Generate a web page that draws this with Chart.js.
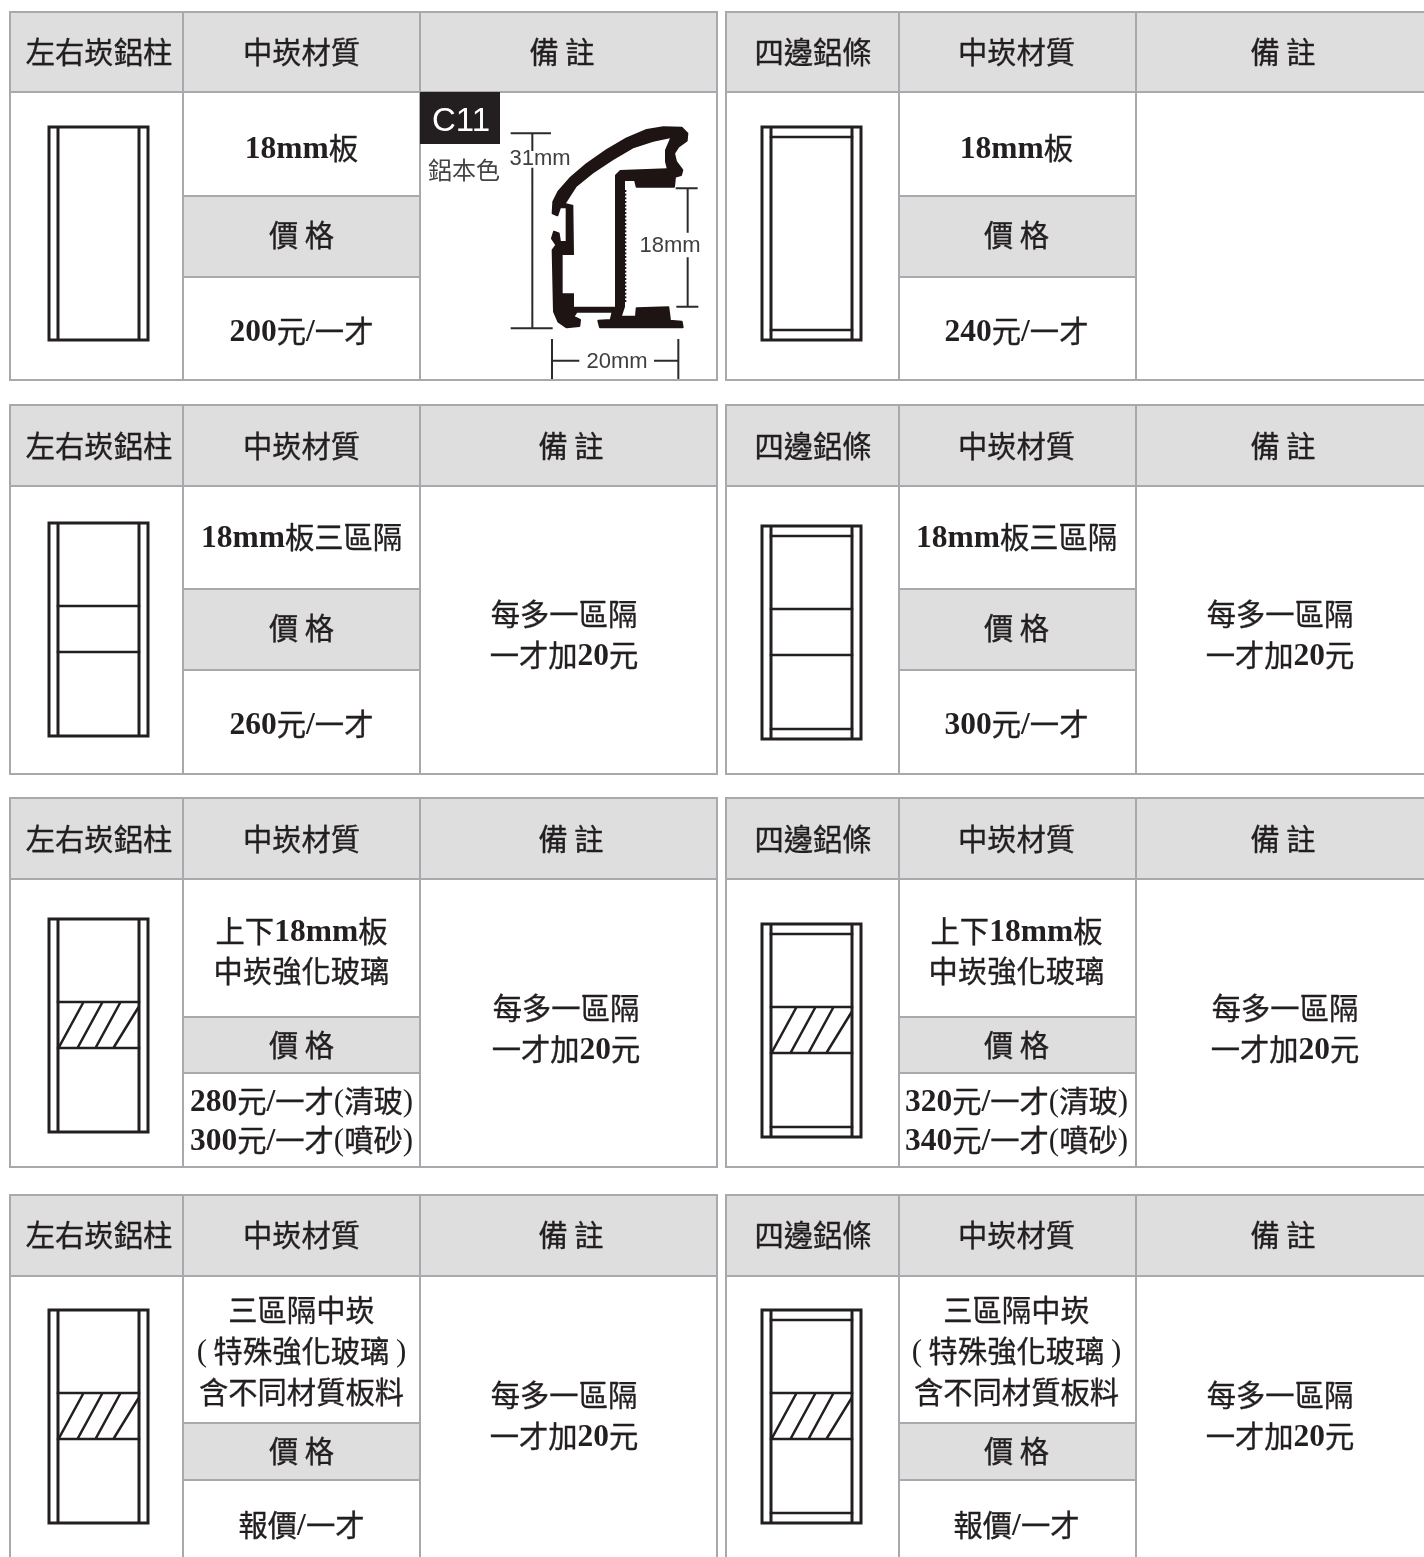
<!DOCTYPE html>
<html><head><meta charset="utf-8">
<style>html,body{margin:0;padding:0;background:#fff}canvas{display:block}</style>
<script src="https://cdn.jsdelivr.net/npm/chart.js@4/dist/chart.umd.min.js"></script>
</head><body>
<canvas id="c" width="1424" height="1557"></canvas>
<script>
// ---- content ----
const frameHeaders = ['左右崁鋁柱', '四邊鋁條'];
const materialHeader = '中崁材質';
const noteHeader = '備 註';
const priceHeader = '價 格';
const materials = [
  ['18mm板'],
  ['18mm板三區隔'],
  ['上下18mm板', '中崁強化玻璃'],
  ['三區隔中崁', '( 特殊強化玻璃 )', '含不同材質板料']
];
const sidePrices = [
  ['200元/一才'],
  ['260元/一才'],
  ['280元/一才(清玻)', '300元/一才(噴砂)'],
  ['報價/一才']
];
const edgePrices = [
  ['240元/一才'],
  ['300元/一才'],
  ['320元/一才(清玻)', '340元/一才(噴砂)'],
  ['報價/一才']
];
const notes = [
  [],
  ['每多一區隔', '一才加20元'],
  ['每多一區隔', '一才加20元'],
  ['每多一區隔', '一才加20元']
];
const profileCode = 'C11';
const profileColor = '鋁本色';
const profileDims = ['31mm', '18mm', '20mm'];

// ---- layout (page units) ----
const W = 1424, H = 1557;
const tableCols = [[10, 183, 420, 717], [726, 899, 1136, 1430]];
const tableRows = [
  [12, 92, 196, 277, 380],
  [405, 486, 589, 670, 774],
  [798, 879, 1017, 1073, 1167],
  [1195, 1276, 1423, 1480, 1556]
];
const headerY = [52, 446, 839, 1235];
const materialY = [[148], [537], [931, 971], [1310, 1351, 1392]];
const priceHeadY = [235, 628, 1045, 1451];
const priceY = [[331], [724], [1101, 1140], [1525]];
const noteY = [[], [614, 655], [1008, 1049], [1395, 1436]];
const noteX = [[0, 564, 566, 564], [0, 1280, 1285, 1280]];
const headNoteX = [[562, 571, 571, 571], [1283, 1283, 1283, 1283]];
const col1X = [99, 813], col2X = [301.5, 1016.5];
const frameX = [[49, 58, 139, 148], [762, 771, 852, 861]];
const frameTop = [[127, 523, 919, 1310], [127, 526, 924, 1310]];
const FRAME_H = 213, DIV_A = 83, DIV_B = 129;

const INK = '#231f20', GRID = '#a7a9ac', HEAD = '#dedede', BLACK = '#1f1414';

// ---- line datasets ----
function seg(list, pts) { list.push(...pts, { x: null, y: null }); }
const gridPts = [], framePts = [], thinPts = [], dimPts = [];
tableCols.forEach((c, t) => tableRows.forEach((r, i) => {
  c.forEach(x => seg(gridPts, [{ x, y: r[0] }, { x, y: r[4] }]));
  const lastOpen = i === tableRows.length - 1;
  r.forEach((y, k) => {
    if (k === 1 || k === 0 || (k === 4 && !lastOpen)) seg(gridPts, [{ x: c[0], y }, { x: c[3], y }]);
    if (k === 2 || k === 3) seg(gridPts, [{ x: c[1], y }, { x: c[2], y }]);
  });
}));
frameX.forEach((fx, t) => frameTop[t].forEach((top, i) => {
  const bot = top + FRAME_H;
  seg(framePts, [{ x: fx[0], y: top }, { x: fx[3], y: top }, { x: fx[3], y: bot }, { x: fx[0], y: bot }, { x: fx[0], y: top }]);
  seg(framePts, [{ x: fx[1], y: top }, { x: fx[1], y: bot }]);
  seg(framePts, [{ x: fx[2], y: top }, { x: fx[2], y: bot }]);
  if (t === 1) {
    seg(thinPts, [{ x: fx[1], y: top + 10 }, { x: fx[2], y: top + 10 }]);
    seg(thinPts, [{ x: fx[1], y: bot - 10 }, { x: fx[2], y: bot - 10 }]);
  }
  if (i > 0) {
    const a = top + DIV_A, b = top + DIV_B;
    seg(thinPts, [{ x: fx[1], y: a }, { x: fx[2], y: a }]);
    seg(thinPts, [{ x: fx[1], y: b }, { x: fx[2], y: b }]);
    if (i > 1) {
      [1, 20, 38].forEach(d => seg(thinPts, [{ x: fx[1] + d, y: b - 1 }, { x: fx[1] + d + 24, y: a + 1 }]));
      seg(thinPts, [{ x: fx[1] + 56, y: b - 1 }, { x: fx[1] + 80, y: a + 6 }]);
    }
  }
}));
// profile dimension lines, in crop units (x/3+420, y/3+90)
const zx = v => v / 3 + 420, zy = v => v / 3 + 90;
[[275, 130, 390, 130], [275, 715, 395, 715], [337, 130, 337, 180], [337, 236, 337, 715],
 [770, 295, 830, 295], [772, 650, 832, 650], [803, 295, 803, 425], [803, 505, 803, 650],
 [396, 750, 396, 865], [775, 750, 775, 865], [396, 812, 475, 812], [705, 812, 775, 812]]
  .forEach(l => seg(dimPts, [{ x: zx(l[0]), y: zy(l[1]) }, { x: zx(l[2]), y: zy(l[3]) }]));

const profileOutline = [[400,335],[398,370],[412,376],[420,352],[440,352],[440,456],[420,456],[416,430],[402,425],[396,445],[409,465],[398,480],[402,665],[415,695],[440,712],[478,708],[480,690],[460,680],[470,665],[578,665],[572,690],[535,692],[540,712],[788,712],[785,695],[750,692],[745,652],[650,655],[648,680],[602,680],[612,650],[612,270],[645,270],[650,290],[762,290],[765,260],[783,255],[787,240],[768,215],[762,190],[775,170],[800,152],[802,130],[785,113],[730,112],[680,120],[620,145],[560,180],[500,222],[450,265],[415,305]];
const profileCavity = [[460,345],[438,340],[470,290],[520,250],[580,210],[640,175],[700,155],[750,145],[735,180],[735,215],[740,235],[600,240],[585,255],[585,650],[462,650],[462,610],[428,610],[428,495],[462,495]];

// ---- text with mixed latin / CJK runs ----
const CJK = '"Noto Sans CJK TC"', SERIF = '"Liberation Serif"';
function runs(s) {
  const out = []; let cur = '', latin = null;
  for (const ch of s) {
    const l = /[0-9a-zA-Z\/()]/.test(ch);
    if (latin !== null && l !== latin) { out.push([cur, latin]); cur = ''; }
    cur += ch; latin = l;
  }
  if (cur) out.push([cur, latin]);
  return out;
}
function fontFor(run) {
  if (!run[1]) return '29.3px ' + CJK;
  if (/^[()]+$/.test(run[0])) return '31px ' + SERIF;
  return 'bold 31.5px ' + SERIF;
}
function drawText(ctx, s, px, py) {
  const parts = [];
  runs(s).forEach(r => {
    if (r[1]) r[0].split(/(?=[()])|(?<=[()])/).forEach(t => parts.push([t, true]));
    else parts.push(r);
  });
  let total = 0;
  parts.forEach(p => { ctx.font = fontFor(p); p.w = ctx.measureText(p[0]).width; total += p.w; });
  let x = px - total / 2;
  ctx.textAlign = 'left'; ctx.textBaseline = 'alphabetic'; ctx.fillStyle = INK;
  ctx.strokeStyle = INK; ctx.lineWidth = 0.35; ctx.lineJoin = 'round';
  parts.forEach(p => {
    ctx.font = fontFor(p);
    const by = py + (p[1] ? 10.3 : 10.8);
    ctx.fillText(p[0], x, by);
    if (!p[1]) ctx.strokeText(p[0], x, by);
    x += p.w;
  });
}

const tablePlugin = {
  id: 'tablePlugin',
  beforeDatasetsDraw(chart) {
    const { ctx, scales: { x: sx, y: sy } } = chart;
    const rect = (x0, y0, x1, y1, c) => {
      ctx.fillStyle = c;
      ctx.fillRect(sx.getPixelForValue(x0), sy.getPixelForValue(y0), sx.getPixelForValue(x1) - sx.getPixelForValue(x0), sy.getPixelForValue(y1) - sy.getPixelForValue(y0));
    };
    ctx.save();
    tableCols.forEach(c => tableRows.forEach(r => {
      rect(c[0], r[0], c[3], r[1], HEAD);
      rect(c[1], r[2], c[2], r[3], HEAD);
    }));
    ctx.restore();
  },
  afterDatasetsDraw(chart) {
    const { ctx, scales: { x: sx, y: sy } } = chart;
    const X = v => sx.getPixelForValue(v), Y = v => sy.getPixelForValue(v);
    ctx.save();
    tableCols.forEach((c, t) => tableRows.forEach((r, i) => {
      drawText(ctx, frameHeaders[t], X(col1X[t]), Y(headerY[i]));
      drawText(ctx, materialHeader, X(col2X[t]), Y(headerY[i]));
      drawText(ctx, noteHeader, X(headNoteX[t][i]), Y(headerY[i]));
      drawText(ctx, priceHeader, X(col2X[t]), Y(priceHeadY[i]));
      materials[i].forEach((s, k) => drawText(ctx, s, X(col2X[t]), Y(materialY[i][k])));
      (t ? edgePrices : sidePrices)[i].forEach((s, k) => drawText(ctx, s, X(col2X[t]), Y(priceY[i][k])));
      notes[i].forEach((s, k) => drawText(ctx, s, X(noteX[t][i]), Y(noteY[i][k])));
    }));
    // C11 profile
    ctx.fillStyle = INK; ctx.fillRect(X(420), Y(92), X(500) - X(420), Y(144) - Y(92));
    ctx.fillStyle = '#fff'; ctx.font = '33px "Liberation Sans"';
    ctx.textAlign = 'center'; ctx.textBaseline = 'middle';
    ctx.fillText(profileCode, X(461), Y(122));
    ctx.fillStyle = '#444'; ctx.font = '24px ' + CJK; ctx.fillText(profileColor, X(464), Y(169.5));
    const poly = (pts, col, grow) => {
      ctx.fillStyle = col; ctx.strokeStyle = col; ctx.lineJoin = 'round'; ctx.lineWidth = grow;
      ctx.beginPath();
      pts.forEach((p, k) => k ? ctx.lineTo(X(zx(p[0])), Y(zy(p[1]))) : ctx.moveTo(X(zx(p[0])), Y(zy(p[1]))));
      ctx.closePath(); ctx.fill();
      if (grow) ctx.stroke();
    };
    poly(profileOutline, BLACK, 2);
    poly(profileCavity, '#fff', 0);
    // serrated inner wall
    ctx.fillStyle = BLACK;
    for (let v = 300; v < 640; v += 11) ctx.fillRect(X(zx(613)), Y(zy(v)), 2, 2);
    ctx.fillStyle = '#3f3f3f'; ctx.font = '22px "Liberation Sans"';
    ctx.fillText(profileDims[0], X(540), Y(159));
    ctx.fillText(profileDims[1], X(670), Y(246));
    ctx.fillText(profileDims[2], X(617), Y(362));
    ctx.restore();
  }
};

const lineSet = (label, data, color, width) => ({
  label, data, showLine: true, spanGaps: false, tension: 0, pointRadius: 0,
  borderColor: color, borderWidth: width, borderCapStyle: 'square', fill: false
});

new Chart(document.getElementById('c'), {
  type: 'scatter',
  data: { datasets: [
    lineSet('grid', gridPts, GRID, 2),
    lineSet('frames', framePts, INK, 3),
    lineSet('frame details', thinPts, INK, 2.5),
    lineSet('dimensions', dimPts, '#2b2b2b', 2)
  ] },
  options: {
    responsive: false, animation: false, devicePixelRatio: 1,
    layout: { padding: 0 },
    plugins: { legend: { display: false }, tooltip: { enabled: false } },
    scales: {
      x: { type: 'linear', display: false, min: 0, max: W },
      y: { type: 'linear', display: false, min: 0, max: H, reverse: true }
    }
  },
  plugins: [tablePlugin]
});
</script>
</body></html>
